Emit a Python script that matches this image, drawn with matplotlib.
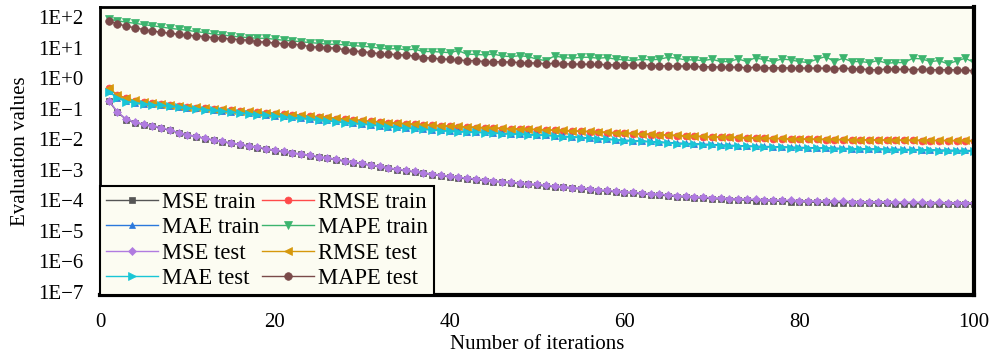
import numpy as np
import matplotlib
matplotlib.use("Agg")
import matplotlib.pyplot as plt

plt.rcParams['font.family'] = ['Liberation Serif', 'DejaVu Serif']

iterations = np.arange(1, 101)

mse_train = [
    0.180, 0.076, 0.044, 0.035, 0.030, 0.027, 0.023, 0.0195, 0.0160, 0.0136,
    0.0121, 0.0105, 0.0092, 0.0082, 0.0073, 0.0066, 0.0059, 0.0053, 0.0047, 0.0042,
    0.0038, 0.0035, 0.0032, 0.0029, 0.0026, 0.0024, 0.0021, 0.0019, 0.00172, 0.00153,
    0.00139, 0.00124, 0.00110, 0.00100, 0.00091, 0.00084, 0.00076, 0.00069, 0.00064, 0.00058,
    0.00054, 0.00050, 0.00047, 0.00044, 0.00041, 0.00039, 0.00037, 0.00035, 0.00033, 0.00031,
    0.00029, 0.000275, 0.000262, 0.000245, 0.000235, 0.000225, 0.000207, 0.000197, 0.000188, 0.000178,
    0.000170, 0.000161, 0.000154, 0.000147, 0.000140, 0.000132, 0.000126, 0.000121, 0.000117, 0.000113,
    0.000109, 0.000105, 0.000103, 0.000100, 0.000098, 0.000096, 0.000094, 0.000092, 0.000090, 0.000089,
    0.000087, 0.000086, 0.000085, 0.000083, 0.000084, 0.000082, 0.000081, 0.000080, 0.000081, 0.000079,
    0.000078, 0.000077, 0.000078, 0.000076, 0.000075, 0.000076, 0.000074, 0.000075, 0.000074, 0.000073,
]
mse_test = [
    0.184, 0.078, 0.045, 0.036, 0.031, 0.028, 0.024, 0.020, 0.0165, 0.0140,
    0.0125, 0.0108, 0.0095, 0.0085, 0.0076, 0.0068, 0.0061, 0.0055, 0.0049, 0.0044,
    0.0040, 0.0036, 0.0033, 0.0030, 0.0027, 0.0025, 0.0022, 0.0020, 0.0018, 0.0016,
    0.00145, 0.00130, 0.00115, 0.00105, 0.00095, 0.00088, 0.00080, 0.00073, 0.00067, 0.00061,
    0.00057, 0.00053, 0.00050, 0.00047, 0.00044, 0.00041, 0.00039, 0.00037, 0.00035, 0.00033,
    0.00031, 0.00029, 0.00028, 0.00026, 0.00025, 0.00024, 0.00022, 0.00021, 0.00020, 0.00019,
    0.000182, 0.000172, 0.000165, 0.000158, 0.000150, 0.000142, 0.000135, 0.000130, 0.000126, 0.000122,
    0.000118, 0.000114, 0.000112, 0.000109, 0.000107, 0.000105, 0.000103, 0.000101, 0.000099, 0.000098,
    0.000096, 0.000095, 0.000094, 0.000092, 0.000093, 0.000091, 0.000090, 0.000089, 0.000090, 0.000088,
    0.000087, 0.000086, 0.000087, 0.000085, 0.000084, 0.000085, 0.000083, 0.000084, 0.000083, 0.000082,
]
rmse_train = [
    0.46, 0.275, 0.215, 0.181, 0.163, 0.152, 0.142, 0.132, 0.122, 0.114,
    0.108, 0.102, 0.097, 0.092, 0.087, 0.083, 0.079, 0.075, 0.072, 0.069,
    0.065, 0.062, 0.059, 0.056, 0.053, 0.050, 0.047, 0.045, 0.043, 0.040,
    0.038, 0.036, 0.034, 0.033, 0.0316, 0.0304, 0.0292, 0.0282, 0.0272, 0.0263,
    0.0255, 0.0248, 0.0241, 0.0235, 0.0229, 0.0223, 0.0217, 0.0212, 0.0208, 0.0204,
    0.0199, 0.0194, 0.0189, 0.0184, 0.0180, 0.0175, 0.0170, 0.0165, 0.0160, 0.0156,
    0.0151, 0.0146, 0.0142, 0.0138, 0.0134, 0.0130, 0.0127, 0.0124, 0.0121, 0.0118,
    0.0116, 0.0114, 0.0112, 0.0110, 0.0108, 0.0106, 0.0104, 0.0103, 0.0101, 0.0100,
    0.0099, 0.0098, 0.0097, 0.0096, 0.0095, 0.0094, 0.0094, 0.0093, 0.0093, 0.0092,
    0.0092, 0.0091, 0.0091, 0.0090, 0.0090, 0.0089, 0.0089, 0.0088, 0.0088, 0.0088,
]
rmse_test = [
    0.47, 0.28, 0.22, 0.185, 0.166, 0.155, 0.145, 0.135, 0.125, 0.117,
    0.111, 0.105, 0.099, 0.094, 0.089, 0.085, 0.081, 0.077, 0.074, 0.071,
    0.067, 0.064, 0.061, 0.058, 0.055, 0.052, 0.049, 0.046, 0.044, 0.041,
    0.039, 0.037, 0.035, 0.034, 0.0325, 0.0312, 0.0300, 0.0290, 0.0280, 0.0270,
    0.0262, 0.0255, 0.0248, 0.0241, 0.0235, 0.0229, 0.0223, 0.0218, 0.0214, 0.0210,
    0.0205, 0.0200, 0.0195, 0.0190, 0.0185, 0.0180, 0.0175, 0.0170, 0.0165, 0.0160,
    0.0155, 0.0150, 0.0146, 0.0142, 0.0138, 0.0134, 0.0130, 0.0127, 0.0124, 0.0121,
    0.0119, 0.0117, 0.0115, 0.0113, 0.0111, 0.0109, 0.0107, 0.0106, 0.0104, 0.0103,
    0.0102, 0.0101, 0.0100, 0.0099, 0.0098, 0.0097, 0.0096, 0.0096, 0.0095, 0.0095,
    0.0094, 0.0094, 0.0093, 0.0093, 0.0092, 0.0092, 0.0091, 0.0091, 0.0091, 0.0090,
]
mae_train = [
    0.37, 0.23, 0.175, 0.158, 0.147, 0.138, 0.130, 0.122, 0.115, 0.108,
    0.102, 0.096, 0.090, 0.085, 0.080, 0.075, 0.070, 0.066, 0.062, 0.059,
    0.056, 0.053, 0.050, 0.047, 0.044, 0.041, 0.038, 0.036, 0.034, 0.032,
    0.030, 0.028, 0.026, 0.025, 0.0236, 0.0225, 0.0215, 0.0205, 0.0196, 0.0189,
    0.0183, 0.0177, 0.0171, 0.0166, 0.0161, 0.0156, 0.0152, 0.0148, 0.0144, 0.0140,
    0.0135, 0.0130, 0.0125, 0.0120, 0.0115, 0.0110, 0.0105, 0.0101, 0.0097, 0.0093,
    0.0090, 0.0087, 0.0084, 0.0081, 0.0078, 0.0075, 0.0073, 0.0071, 0.0069, 0.0067,
    0.0065, 0.0063, 0.0062, 0.0060, 0.0059, 0.0058, 0.0057, 0.0056, 0.0055, 0.0054,
    0.0053, 0.0052, 0.0052, 0.0051, 0.0050, 0.0049, 0.0049, 0.0048, 0.0048, 0.0047,
    0.0047, 0.0046, 0.0046, 0.0045, 0.0045, 0.0044, 0.0044, 0.0043, 0.0043, 0.0042,
]
mae_test = [
    0.36, 0.22, 0.17, 0.155, 0.144, 0.135, 0.127, 0.119, 0.112, 0.105,
    0.099, 0.093, 0.087, 0.082, 0.077, 0.072, 0.068, 0.064, 0.060, 0.057,
    0.054, 0.051, 0.048, 0.045, 0.042, 0.040, 0.037, 0.035, 0.033, 0.031,
    0.029, 0.027, 0.025, 0.024, 0.0228, 0.0218, 0.0208, 0.0199, 0.0190, 0.0184,
    0.0178, 0.0173, 0.0167, 0.0162, 0.0157, 0.0152, 0.0148, 0.0144, 0.0140, 0.0137,
    0.0132, 0.0127, 0.0122, 0.0117, 0.0112, 0.0107, 0.0102, 0.0098, 0.0094, 0.0090,
    0.0087, 0.0084, 0.0081, 0.0078, 0.0075, 0.0072, 0.0070, 0.0068, 0.0066, 0.0064,
    0.0062, 0.0061, 0.0060, 0.0058, 0.0057, 0.0056, 0.0055, 0.0054, 0.0053, 0.0052,
    0.0051, 0.0050, 0.0050, 0.0049, 0.0048, 0.0047, 0.0047, 0.0046, 0.0046, 0.0045,
    0.0045, 0.0044, 0.0044, 0.0043, 0.0043, 0.0042, 0.0042, 0.0041, 0.0041, 0.0040,
]
mape_train = [
    86.0, 75.0, 68.0, 62.0, 56.5, 51.5, 47.1, 42.6, 39.6, 36.7,
    33.2, 30.8, 27.2, 25.8, 23.9, 22.2, 21.1, 20.1, 20.1, 18.6,
    17.3, 16.4, 15.6, 14.5, 13.8, 12.8, 12.8, 12.2, 11.6, 11.0,
    10.5, 9.47, 9.0, 9.2, 8.4, 8.8, 7.4, 7.4, 7.1, 6.8,
    7.9, 6.0, 6.0, 5.7, 6.1, 5.3, 5.05, 5.4, 5.05, 4.14,
    3.74, 5.3, 4.7, 4.46, 4.8, 4.8, 4.46, 4.7, 4.14, 3.94,
    3.74, 4.14, 3.94, 4.14, 4.8, 4.46, 3.94, 3.94, 3.74, 4.14,
    3.47, 3.47, 4.24, 3.47, 4.69, 3.94, 3.47, 4.24, 3.94, 3.47,
    3.22, 4.14, 5.06, 3.47, 4.46, 3.47, 3.47, 3.22, 3.74, 3.06,
    3.22, 3.22, 4.46, 4.24, 3.47, 3.74, 2.91, 3.65, 4.46, 3.22,
]
mape_test = [
    72.0, 60.6, 49.6, 44.8, 38.5, 34.9, 31.6, 29.3, 27.2, 25.2,
    24.5, 22.8, 21.1, 20.1, 19.1, 18.2, 17.3, 15.6, 14.9, 14.1,
    13.4, 12.8, 12.2, 10.7, 10.2, 9.95, 9.47, 8.55, 7.74, 7.36,
    6.83, 6.34, 6.03, 5.9, 5.6, 5.3, 4.7, 4.5, 4.25, 4.1,
    3.93, 3.74, 3.74, 3.47, 3.47, 3.4, 3.35, 3.22, 3.2, 3.06,
    2.95, 3.05, 2.95, 2.9, 2.85, 2.85, 2.8, 2.75, 2.7, 2.7,
    2.65, 2.6, 2.55, 2.55, 2.5, 2.5, 2.45, 2.4, 2.35, 2.35,
    2.3, 2.3, 2.25, 2.2, 2.25, 2.2, 2.15, 2.2, 2.15, 2.1,
    2.15, 2.1, 2.1, 2.05, 2.1, 2.05, 2.0, 1.9, 1.85, 2.0,
    1.95, 1.95, 1.9, 1.95, 1.9, 1.85, 1.9, 1.85, 1.8, 1.75,
]

y_exponents = list(range(-7, 3))
x_ticks = [0, 20, 40, 60, 80, 100]

# (label, data, colour, marker, marker size)
series = [
    ("MSE train", mse_train, "#555555", "s", 4.5),
    ("RMSE train", rmse_train, "#ff4a4a", "o", 5),
    ("MAE train", mae_train, "#2a78dc", "^", 5),
    ("MAPE train", mape_train, "#3cb46e", "v", 5.5),
    ("MSE test", mse_test, "#b07be0", "D", 4.5),
    ("RMSE test", rmse_test, "#d6980c", "<", 5.5),
    ("MAE test", mae_test, "#19c6d6", ">", 5.5),
    ("MAPE test", mape_test, "#7a4a4a", "o", 5.5),
]

bg = "#fcfcf2"
fig = plt.figure(figsize=(9.94, 3.57), dpi=100)
ax = fig.add_axes([0.1006, 0.174, 0.8794, 0.806])
ax.set_facecolor(bg)

handles = {}
for label, vals, color, marker, ms in series:
    h, = ax.plot(iterations, vals, color=color, marker=marker, markersize=ms,
                 linewidth=1.0, markeredgewidth=0.5, label=label)
    handles[label] = h

ax.set_yscale("log")
ax.set_ylim(8e-8, 2.1e2)
ax.set_xlim(0, 100)
ax.set_yticks([10.0 ** e for e in y_exponents])
ax.set_yticklabels([f"1E{e:+d}".replace("-", "\u2212") for e in y_exponents])
ax.minorticks_off()
ax.set_xticks(x_ticks)
ax.tick_params(axis="both", length=0, labelsize=15)
ax.tick_params(axis="y", pad=12)
ax.tick_params(axis="x", pad=13)

for side in ["left", "top"]:
    ax.spines[side].set_linewidth(2.0)
for side in ["right", "bottom"]:
    ax.spines[side].set_linewidth(3.0)

ax.set_xlabel("Number of iterations", fontsize=15, labelpad=2)
ax.set_ylabel("Evaluation values", fontsize=15, labelpad=6)

order = ["MSE train", "MAE train", "MSE test", "MAE test",
         "RMSE train", "MAPE train", "RMSE test", "MAPE test"]
leg = ax.legend([handles[k] for k in order], order, ncol=2, loc="lower left",
                bbox_to_anchor=(0.0, 0.0), fontsize=16.3, numpoints=1,
                handlelength=2.3, handletextpad=0.2, columnspacing=0.1,
                labelspacing=0.2, borderpad=0.25, borderaxespad=0.0,
                fancybox=False, framealpha=1.0, edgecolor="black",
                facecolor=bg)
leg.get_frame().set_linewidth(1.5)

fig.savefig("out.png", dpi=100)
